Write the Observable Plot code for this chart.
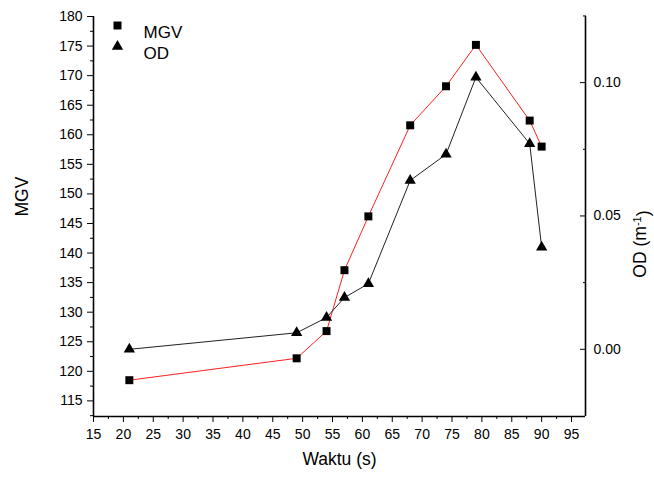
<!DOCTYPE html>
<html><head><meta charset="utf-8">
<script src="https://cdn.jsdelivr.net/npm/d3@7"></script>
<script src="https://cdn.jsdelivr.net/npm/@observablehq/plot@0.6"></script>
<style>
body{margin:0;background:#fff}
svg{font-family:"Liberation Sans",Arial,sans-serif}
</style>
</head><body><div id="chart"></div>
<script>
// ---- data ----
const waktu = [21, 49, 54, 57, 61, 68, 74, 79, 88, 90];
const mgv   = [118.5, 122.2, 126.8, 137.1, 146.2, 161.6, 168.2, 175.2, 162.4, 158.0];
const od    = [0.000, 0.0062, 0.0119, 0.0194, 0.0246, 0.0633, 0.0731, 0.1020, 0.0771, 0.0383];

const xTicks   = d3.range(15, 96, 5);
const xMinor   = d3.range(17.5, 96, 5);
const mgvTicks = d3.range(115, 181, 5);
const mgvMinor = d3.range(112.5, 180, 5);
const odTicks  = [0, 0.05, 0.10];
const odMinor  = [0.025, 0.075, 0.125];
const legendLabels  = ["MGV", "OD"];
const legendSymbols = ["square", "triangle"];

const xDomain = [15, 97.34];
const yDomain = [112.36, 180];
// secondary axis: OD mapped onto MGV scale
const odToMgv = d3.scaleLinear().domain([0, 0.1]).range([123.72, 168.82]);

const rows = waktu.map((t, i) => ({t, mgv: mgv[i], od: od[i]}));

const legendMarks = legendLabels.flatMap((lab, i) => [
  Plot.dot([lab], {frameAnchor: "top-left", dx: 24, dy: 9 + 21 * i, symbol: legendSymbols[i],
    r: legendSymbols[i] === "square" ? 4.5 : 4.2, fill: "black", stroke: "none"}),
  Plot.text([lab], {frameAnchor: "top-left", dx: 50, dy: 9 + 21 * i, text: d => d,
    textAnchor: "start", fontSize: 17, fill: "black"})
]);

const chart = Plot.plot({
  width: 654, height: 478,
  marginLeft: 93, marginRight: 69, marginTop: 16, marginBottom: 62,
  x: {domain: xDomain},
  y: {domain: yDomain},
  style: {fontFamily: '"Liberation Sans", Arial, sans-serif', fontSize: "14px", color: "#000", background: "#fff"},
  marks: [
    Plot.axisX({ticks: xTicks, tickSize: 6, tickPadding: 7, tickFormat: d => d, fontSize: 14, label: null}),
    Plot.axisX({ticks: xMinor, tickSize: 3, text: null, label: null}),
    Plot.axisY({ticks: mgvTicks, tickSize: 6, tickPadding: 5, tickFormat: d => d, fontSize: 14, label: null}),
    Plot.axisY({ticks: mgvMinor, tickSize: 3, text: null, label: null}),
    Plot.axisY({anchor: "right", ticks: odTicks.map(odToMgv), tickSize: -6, text: null, label: null}),
    Plot.axisY({anchor: "right", ticks: odMinor.map(odToMgv), tickSize: -3, text: null, label: null}),
    Plot.axisY({anchor: "right", ticks: odTicks.map(odToMgv), tickSize: 0, tickPadding: 8,
      tickFormat: v => d3.format(".2f")(odToMgv.invert(v)), fontSize: 14, label: null}),
    Plot.ruleX(xDomain, {stroke: "black", strokeWidth: 1.6}),
    Plot.ruleY([yDomain[0]], {stroke: "black", strokeWidth: 1.6}),
    Plot.line(rows, {x: "t", y: "mgv", stroke: "#ff2020", strokeWidth: 1}),
    Plot.line(rows, {x: "t", y: d => odToMgv(d.od), stroke: "#222", strokeWidth: 1}),
    Plot.dot(rows, {x: "t", y: "mgv", symbol: "square", r: 4.5, fill: "black", stroke: "none"}),
    Plot.dot(rows, {x: "t", y: d => odToMgv(d.od), symbol: "triangle", r: 4.2, fill: "black", stroke: "none"}),
    ...legendMarks,
    Plot.text(["MGV"], {frameAnchor: "left", dx: -71, text: d => d, rotate: -90, fontSize: 17.5, fill: "black"}),
    Plot.text(["ODLABEL"], {frameAnchor: "right", dx: 55, dy: -6, text: d => d, rotate: -90, fontSize: 17.5, fill: "black"}),
    Plot.text(["Waktu (s)"], {frameAnchor: "bottom", dy: 48, text: d => d, fontSize: 17.5, fill: "black"})
  ]
});

document.getElementById("chart").appendChild(chart);

// superscript for OD unit
d3.select(chart).selectAll("text").filter(function() { return this.textContent === "ODLABEL"; })
  .each(function() {
    const t = d3.select(this);
    t.text(null);
    t.append("tspan").text("OD (m");
    t.append("tspan").attr("dy", "-0.5em").attr("font-size", 11).text("-1");
    t.append("tspan").attr("dy", "0.5em").text(")");
  });
</script>
</body></html>
